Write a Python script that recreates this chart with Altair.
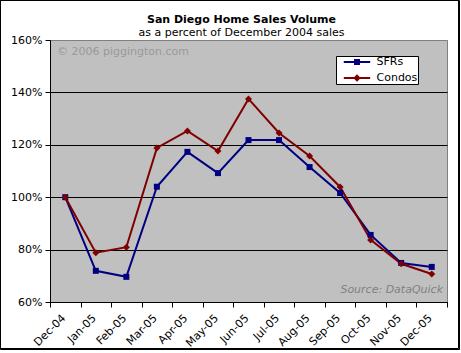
import altair as alt
import pandas as pd

months = ["Dec-04", "Jan-05", "Feb-05", "Mar-05", "Apr-05", "May-05", "Jun-05",
          "Jul-05", "Aug-05", "Sep-05", "Oct-05", "Nov-05", "Dec-05"]
sfrs = [100, 71.9, 69.6, 104.0, 117.3, 109.2, 121.8, 121.8, 111.5, 101.6, 85.6, 74.9, 73.4]
condos = [100, 78.8, 80.9, 118.8, 125.3, 117.6, 137.5, 124.5, 115.7, 103.9, 83.7, 74.6, 70.7]
series_names = ["SFRs", "Condos"]
series_colors = ["#000080", "#800000"]
y_ticks = [60, 80, 100, 120, 140, 160]

rows = []
for m, s, c in zip(months, sfrs, condos):
    rows.append({"month": m, "series": "SFRs", "value": s})
    rows.append({"month": m, "series": "Condos", "value": c})
df = pd.DataFrame(rows)

FONT = "DejaVu Sans"

# legend symbols: a short line with the marker on it
path_sfr = "M-4.4,-0.34H4.4V0.34H-4.4Z M-1,-1H1V1H-1Z"
path_condo = "M-4.4,-0.34H4.4V0.34H-4.4Z M0,-1.25L1.25,0L0,1.25L-1.25,0Z"

legend = alt.Legend(
    title=None, orient="none", legendX=286, legendY=16,
    fillColor="white", strokeColor="black", padding=0.5,
    labelFont=FONT, labelFontSize=11, labelColor="black",
    symbolSize=36, symbolOffset=15, labelOffset=14, symbolStrokeWidth=0,
    rowPadding=4, symbolOpacity=1,
)

color = alt.Color("series:N", scale=alt.Scale(domain=series_names, range=series_colors), legend=legend)

x = alt.X("month:N", sort=months,
          scale=alt.Scale(type="band", paddingInner=0, paddingOuter=0),
          bandPosition=0.5,
          axis=alt.Axis(title=None, labelAngle=-45, tickBand="extent", tickSize=5,
                        domainColor="black", tickColor="black", labelColor="black",
                        labelFont=FONT, labelFontSize=11, grid=False,
                        labelPadding=5, labelOffset=-6))
y = alt.Y("value:Q", scale=alt.Scale(domain=[60, 160], nice=False, zero=False),
          axis=alt.Axis(title=None, values=y_ticks, labelExpr="datum.value + '%'",
                        tickSize=5, domainColor="black", tickColor="black",
                        labelColor="black", labelFont=FONT, labelFontSize=11,
                        grid=True,
                        gridColor={"condition": {"test": "datum.value >= 159", "value": "#808080"}, "value": "black"},
                        labelPadding=3))

base = alt.Chart(df)

legend_layer = base.transform_filter("false").mark_point(filled=True, size=36).encode(
    x=x, y=y, color=color,
    shape=alt.Shape("series:N", scale=alt.Scale(domain=series_names, range=[path_sfr, path_condo]), legend=legend),
)

lines = base.mark_line(strokeWidth=2).encode(x=x, y=y, color=color)

pts_sfr = base.transform_filter("datum.series == 'SFRs'").mark_point(
    shape="square", filled=True, size=36, opacity=1).encode(x=x, y=y, color=color)
pts_condo = base.transform_filter("datum.series == 'Condos'").mark_point(
    shape="diamond", filled=True, size=49, opacity=1).encode(x=x, y=y, color=color)

one = pd.DataFrame({"a": [0]})
watermark = alt.Chart(one).mark_text(align="left", baseline="alphabetic", color="#999999",
                                     font=FONT, fontSize=11).encode(
    x=alt.value(7), y=alt.value(15), text=alt.value("© 2006 piggington.com"))
source = alt.Chart(one).mark_text(align="right", baseline="alphabetic", color="#808080",
                                  font=FONT, fontSize=11, fontStyle="italic").encode(
    x=alt.value(393), y=alt.value(253), text=alt.value("Source: DataQuick"))
border1 = alt.Chart(one).mark_rect(fill="transparent", stroke="black", strokeWidth=1).encode(
    x=alt.value(-49.5), x2=alt.value(408.5), y=alt.value(-39.5), y2=alt.value(308.5))
border2 = alt.Chart(one).mark_rect(fill="transparent", stroke="black", strokeWidth=1).encode(
    x=alt.value(-49.5), x2=alt.value(409.5), y=alt.value(-39.5), y2=alt.value(309.5))

chart = alt.layer(legend_layer, lines, pts_sfr, pts_condo, watermark, source, border1, border2).properties(
    width=397, height=262,
    title=alt.Title("San Diego Home Sales Volume", subtitle="as a percent of December 2004 sales",
                    font=FONT, fontSize=11, fontWeight="bold", color="black",
                    subtitleFont=FONT, subtitleFontSize=11, subtitleColor="black",
                    anchor="middle", frame="group", offset=-38, subtitlePadding=2, dx=-7),
    autosize=alt.AutoSizeParams(type="none"),
    padding={"left": 50, "top": 40, "right": 14, "bottom": 51},
    background="white",
).configure_view(fill="#C0C0C0", stroke="#808080", strokeWidth=1)

chart.save("out.html", embed_options={"renderer": "svg", "actions": False})
